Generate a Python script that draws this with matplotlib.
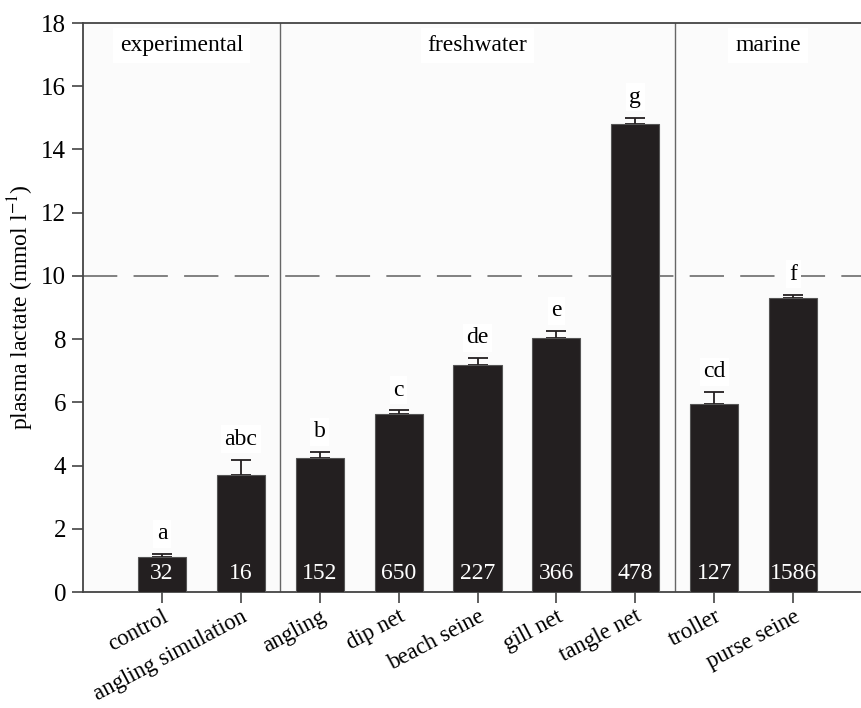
import numpy as np
import matplotlib
matplotlib.use("Agg")
import matplotlib.pyplot as plt
import matplotlib.transforms as mtransforms

# data
methods = ["control", "angling simulation", "angling", "dip net", "beach seine",
           "gill net", "tangle net", "troller", "purse seine"]
lactate = [1.10, 3.69, 4.25, 5.63, 7.17, 8.02, 14.81, 5.96, 9.31]
sem = [0.10, 0.50, 0.18, 0.12, 0.24, 0.24, 0.20, 0.37, 0.10]
letters = ["a", "abc", "b", "c", "de", "e", "g", "cd", "f"]
counts = ["32", "16", "152", "650", "227", "366", "478", "127", "1586"]
groups = ["experimental", "freshwater", "marine"]
group_edges = [-1, 1.5, 6.5, 8.86]
threshold = 10

plt.rcParams['font.family'] = ['Liberation Serif', 'DejaVu Serif']
plt.rcParams['mathtext.fontset'] = 'stix'

fig = plt.figure(figsize=(8.61, 7.08), dpi=100)
ax = fig.add_axes([0.0964, 0.1638, 0.9036, 0.8037])
ax.set_facecolor('#fbfbfb')

x = np.arange(len(methods))
ax.bar(x, lactate, width=0.61, color='#231f20', edgecolor='#555555', linewidth=0.8, zorder=3)
ax.errorbar(x, lactate, yerr=[np.zeros(len(sem)), sem], fmt='none', ecolor='#231f20',
            elinewidth=1.3, capsize=7, capthick=1.3, zorder=2)

ax.axhline(threshold, color='#777777', linestyle=(0, (19, 9)), linewidth=1.3, zorder=1)
for edge in group_edges[1:-1]:
    ax.axvline(edge, color='#666666', linewidth=1.0, zorder=1)

# significance letters above the error bars
for xi, yi, ei, lab in zip(x, lactate, sem, letters):
    ax.annotate(lab, (xi, yi + ei), xytext=(0, 7), textcoords='offset points',
                ha='center', va='bottom', fontsize=17, zorder=4,
                bbox=dict(boxstyle='square,pad=0.15', fc='white', ec='none'))

# sample sizes inside bars
for xi, n in zip(x, counts):
    ax.text(xi, 0.6, n, ha='center', va='center', color='white', fontsize=17, zorder=4)

for g, lo, hi in zip(groups, group_edges[:-1], group_edges[1:]):
    ax.text((lo + hi) / 2, 17.3, g, ha='center', va='center', fontsize=17,
            bbox=dict(boxstyle='square,pad=0.3', fc='white', ec='none'))

ax.set_xlim(group_edges[0], group_edges[-1])
ax.set_ylim(0, 18)
ax.set_yticks(np.arange(0, 19, 2))
ax.set_xticks(x)
ax.set_xticklabels(methods, rotation=28, ha='right', rotation_mode='anchor', fontsize=16.5)
shift = mtransforms.ScaledTranslation(5 / 100, 0, fig.dpi_scale_trans)
for lab in ax.get_xticklabels():
    lab.set_transform(lab.get_transform() + shift)
ax.tick_params(axis='y', labelsize=18, length=8, width=1.2, color='#444444', pad=4)
ax.tick_params(axis='x', length=8, width=1.2, color='#444444', pad=2)
ax.set_ylabel("plasma lactate (mmol l$^{-1}$)", fontsize=17, labelpad=4)

for side in ['left', 'top', 'bottom']:
    ax.spines[side].set_color('#444444')
    ax.spines[side].set_linewidth(1.3)
ax.spines['right'].set_visible(False)

fig.savefig("out.png", dpi=100, facecolor='white')
